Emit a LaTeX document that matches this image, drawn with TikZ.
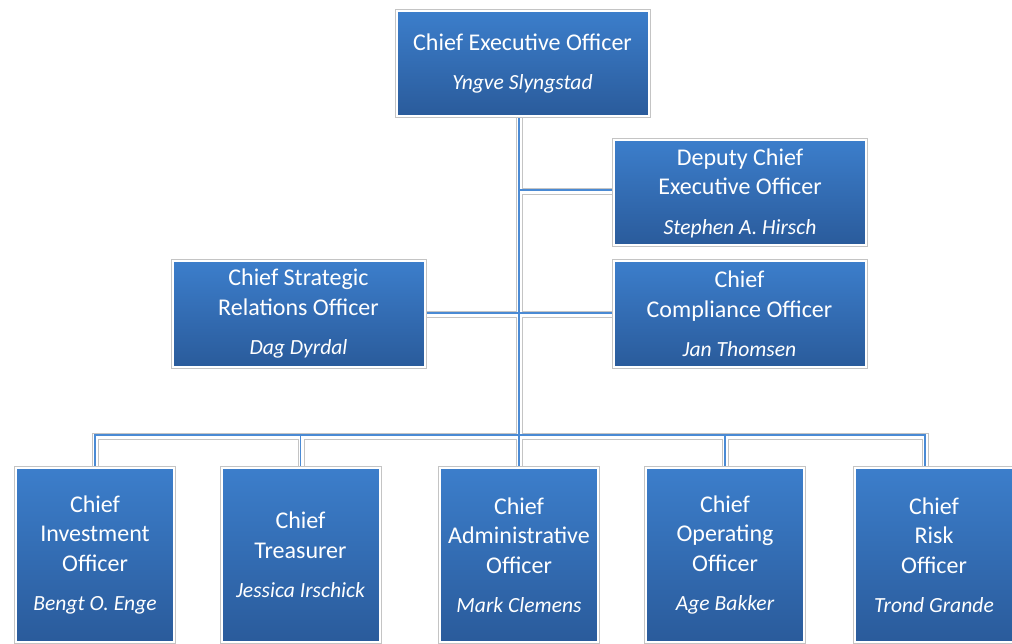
\documentclass[tikz,border=0pt]{standalone}
\usepackage{fontspec}
\setmainfont{Carlito}
\usetikzlibrary{backgrounds}
\definecolor{btop}{HTML}{3C7ECB}
\definecolor{bbot}{HTML}{2A5B9B}
\definecolor{rim}{HTML}{C4C4C4}
\definecolor{connblue}{HTML}{4A8AD4}
\newcommand\who[1]{{\fontsize{21.6}{29.5}\selectfont\itshape #1}}
\newcommand\orgconns{(j1 |- ceo.south) -- (j3) (j1) -- (j1 -| dep.west) (j2 -| csro.east) -- (j2 -| cco.west) (b1.north) |- (bus5) -- (bus5 |- b5.north) (b2.north) -- (b2.north |- j3) (b3.north) -- (b3.north |- j3) (b4.north) -- (b4.north |- j3)}
\begin{document}
\begin{tikzpicture}[x=1pt,y=-1pt,
  box/.style={shading=axis, top color=btop, bottom color=bbot, draw=white, line width=2pt,
    preaction={draw=rim, line width=4pt}, text=white, align=center, inner sep=0pt,
    font=\fontsize{24}{29.5}\selectfont},
  midbox/.style={box, minimum width=252pt, minimum height=105pt},
  lowbox/.style={box, minimum width=158pt, minimum height=174pt}]
\useasboundingbox (0,0) rectangle (1012,644);
\clip (0,0) rectangle (1012,644);
\node[midbox] (ceo) at (522.5,63.5) {Chief Executive Officer\\[9pt]\who{Yngve Slyngstad}};
\node[midbox] (dep) at (740,193) {Deputy Chief\\Executive Officer\\[10pt]\who{Stephen A. Hirsch}};
\node[midbox] (csro) at (298.5,314) {Chief Strategic\\Relations Officer\\[10pt]\who{Dag Dyrdal}};
\node[midbox] (cco) at (739.5,314) {Chief\\Compliance Officer\\[10pt]\who{Jan Thomsen}};
\node[lowbox] (b1) at (95,555) {Chief\\Investment\\Officer\\[10pt]\who{Bengt O. Enge}};
\node[lowbox] (b2) at (300.5,555) {Chief\\Treasurer\\[10pt]\who{Jessica Irschick}};
\node[lowbox] (b3) at (519,555) {Chief\\Administrative\\Officer\\[10pt]\who{Mark Clemens}};
\node[lowbox] (b4) at (725,555) {Chief\\Operating\\Officer\\[10pt]\who{Age Bakker}};
\node[lowbox] (b5) at (934,555) {Chief\\Risk\\Officer\\[10pt]\who{Trond Grande}};
\coordinate (j1) at (519,190);
\coordinate (j2) at (519,313);
\coordinate (j3) at (519,435);
\coordinate (bus5) at (925,435);
\begin{scope}[on background layer]
\fill[white] (0,0) rectangle (1012,644);
\draw[rim, line width=7pt, transform canvas={xshift=0.5pt,yshift=-1.5pt}] \orgconns;
\draw[white, line width=5pt, transform canvas={xshift=0.5pt,yshift=-1.5pt}] \orgconns;
\draw[connblue, line width=1.2pt] \orgconns;
\end{scope}
\end{tikzpicture}
\end{document}
